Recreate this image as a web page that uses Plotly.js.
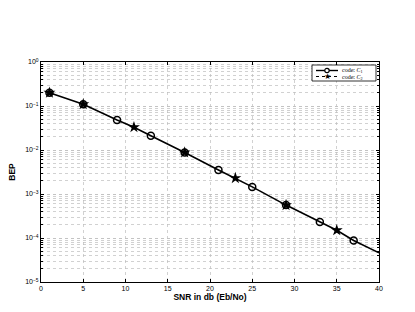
<!DOCTYPE html>
<html><head><meta charset="utf-8">
<script src="https://cdn.plot.ly/plotly-3.0.1.min.js"></script>
<style>html,body{margin:0;padding:0;background:#fff;}#c{width:415px;height:312px;}</style>
</head><body><div id="c"></div>
<script>
// Curve (SNR in dB vs BEP)
const snrCurve = [1, 5, 9, 11, 13, 17, 21, 23, 25, 29, 33, 35, 37, 40];
const bepCurve = [0.2, 0.11, 0.048, 0.033, 0.021, 0.0088, 0.0035, 0.0023, 0.00145, 0.00056, 0.00023, 0.00015, 0.000088, 0.000046];
// code C1 marker points (circles)
const snrC1 = [1, 5, 9, 13, 17, 21, 25, 29, 33, 37];
const bepC1 = [0.2, 0.11, 0.048, 0.021, 0.0088, 0.0035, 0.00145, 0.00056, 0.00023, 0.000088];
// code C2 marker points (stars)
const snrC2 = [1, 5, 11, 17, 23, 29, 35];
const bepC2 = [0.2, 0.11, 0.033, 0.0088, 0.0023, 0.00056, 0.00015];
const xTicks = [0, 5, 10, 15, 20, 25, 30, 35, 40];
const yTickVals = [1e-5, 1e-4, 1e-3, 1e-2, 1e-1, 1];
const yTickText = ['10<sup>−5</sup>', '10<sup>−4</sup>', '10<sup>−3</sup>', '10<sup>−2</sup>', '10<sup>−1</sup>', '10<sup>0</sup>'];
const legendNames = ['code: <i>C</i><sub>1</sub>', 'code: <i>C</i><sub>2</sub>'];

const M = {l: 41, r: 36, t: 62, b: 30};
const W = 415, H = 312;
const pw = W - M.l - M.r, ph = H - M.t - M.b;
const px = v => (v - M.l) / pw;
const py = v => (H - M.b - v) / ph;

const gridCol = '#bdbdbd';
const traces = [
  {x: snrCurve, y: bepCurve, mode: 'lines', line: {color: '#000', width: 1.6}, showlegend: false, hoverinfo: 'skip'},
  {x: snrC2, y: bepC2, mode: 'markers', name: legendNames[1], showlegend: false,
   marker: {symbol: 'star', size: 9, color: '#000'}},
  {x: snrC1, y: bepC1, mode: 'markers', name: legendNames[0], showlegend: false,
   marker: {symbol: 'circle-open', size: 7, color: '#000', line: {width: 1.5, color: '#000'}}}
];

// hand-built compact legend (MATLAB style)
const r1 = 70.5, r2 = 76.5;
const shapes = [
  {type: 'rect', xref: 'paper', yref: 'paper', x0: px(312), x1: px(376), y0: py(81), y1: py(65),
   line: {color: '#000', width: 0.8}, fillcolor: '#fff', layer: 'above'},
  {type: 'line', xref: 'paper', yref: 'paper', x0: px(316), x1: px(338), y0: py(r1), y1: py(r1),
   line: {color: '#000', width: 1.4}, layer: 'above'},
  {type: 'circle', xref: 'paper', yref: 'paper', x0: px(324.8), x1: px(329.2), y0: py(r1 + 2.2), y1: py(r1 - 2.2),
   line: {color: '#000', width: 1.2}, fillcolor: '#fff', layer: 'above'},
  {type: 'line', xref: 'paper', yref: 'paper', x0: px(316), x1: px(338), y0: py(r2), y1: py(r2),
   line: {color: '#000', width: 1, dash: 'dot'}, layer: 'above'}
];
const annotations = [
  {xref: 'paper', yref: 'paper', x: px(327), y: py(r2 + 0.3), text: '★', showarrow: false,
   font: {size: 8, color: '#000', family: 'DejaVu Sans'}, xanchor: 'center', yanchor: 'middle'},
  {xref: 'paper', yref: 'paper', x: px(340), y: py(r1), text: legendNames[0], showarrow: false,
   font: {size: 6, color: '#000', family: 'Liberation Serif, serif'}, xanchor: 'left', yanchor: 'middle'},
  {xref: 'paper', yref: 'paper', x: px(340), y: py(r2 + 0.5), text: legendNames[1], showarrow: false,
   font: {size: 6, color: '#000', family: 'Liberation Serif, serif'}, xanchor: 'left', yanchor: 'middle'}
];

const layout = {
  width: W, height: H,
  margin: {l: M.l, r: M.r, t: M.t, b: M.b, pad: 0},
  paper_bgcolor: '#fff', plot_bgcolor: '#fff',
  font: {family: 'Liberation Sans, Arial, sans-serif', size: 7, color: '#000'},
  showlegend: false,
  shapes: shapes, annotations: annotations,
  xaxis: {range: [0, 40], tickvals: xTicks, ticktext: xTicks.map(String),
    showline: true, linecolor: '#000', linewidth: 1, mirror: 'ticks',
    ticks: 'inside', ticklen: 3, tickcolor: '#000',
    showgrid: true, gridcolor: gridCol, griddash: 'dot', gridwidth: 0.7, zeroline: false,
    tickfont: {size: 7},
    title: {text: '<b>SNR in db (Eb/No)</b>', font: {size: 8.5}, standoff: 2}},
  yaxis: {type: 'log', range: [-5, 0], tickvals: yTickVals, ticktext: yTickText,
    showline: true, linecolor: '#000', linewidth: 1, mirror: 'ticks',
    ticks: 'inside', ticklen: 3, tickcolor: '#000',
    showgrid: true, gridcolor: gridCol, griddash: 'dot', gridwidth: 0.7, zeroline: false,
    minor: {dtick: 'D1', showgrid: true, gridcolor: gridCol, griddash: 'dot', gridwidth: 0.7, ticks: 'inside', ticklen: 2, tickcolor: '#000'},
    tickfont: {size: 7},
    title: {text: '<b>BEP</b>', font: {size: 8.5}, standoff: 8}}
};
Plotly.newPlot('c', traces, layout, {displayModeBar: false, staticPlot: true});
</script></body></html>
